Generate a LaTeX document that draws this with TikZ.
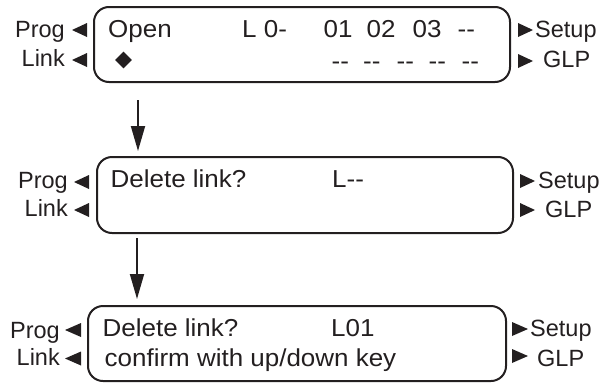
\documentclass[tikz,border=0pt]{standalone}
\usepackage{fontspec}
\setmainfont{Liberation Sans}
\newfontfamily\lcdfont[FakeStretch=1.06]{Liberation Sans}
\usetikzlibrary{arrows.meta,shapes.geometric}
\definecolor{ink}{HTML}{231F20}
\tikzset{
  lcdbox/.style={draw=ink, line width=2pt, rounded corners=15pt, inner sep=0pt},
  lcdtxt/.style={inner sep=0pt, anchor=base west, text=ink, font=\lcdfont\fontsize{24.5}{28}\selectfont},
  labl/.style={inner sep=0pt, anchor=base east, text=ink, font=\fontsize{23.5}{28}\selectfont},
  labr/.style={inner sep=0pt, anchor=base west, text=ink, font=\fontsize{23.5}{28}\selectfont},
  flowarrow/.style={draw=ink, line width=1.8pt, -{Triangle[length=25pt,width=14pt]}},
}
\begin{document}
\begin{tikzpicture}[x=1pt,y=-1pt]
\useasboundingbox (0,0) rectangle (604,383);
% boxes
\node[lcdbox, minimum width=416pt, minimum height=75pt] (box1) at (302,44.5) {};
\node[lcdbox, minimum width=416pt, minimum height=76pt] (box2) at (305,195) {};
\node[lcdbox, minimum width=418pt, minimum height=75pt] (box3) at (297,343.5) {};
% box 1 text
\node[lcdtxt] (b1open) at (108,37.3) {Open};
\node[lcdtxt] (b1l) at (242,37.3) {L 0-};
\node[lcdtxt] (b1a) at (323.5,37.3) {01};
\node[lcdtxt] (b1b) at (366.5,37.3) {02};
\node[lcdtxt] (b1c) at (412.5,37.3) {03};
\node[lcdtxt] (b1d) at (457.5,37.3) {--};
\node[diamond, fill=ink, inner sep=0pt, minimum width=17pt, minimum height=17pt] (b1dia) at (123.5,60) {};
\node[lcdtxt] (b1e) at (331.5,69) {--};
\node[lcdtxt] (b1f) at (363,69) {--};
\node[lcdtxt] (b1g) at (396.5,69) {--};
\node[lcdtxt] (b1h) at (428.5,69) {--};
\node[lcdtxt] (b1i) at (461.5,69) {--};
% box 2 text
\node[lcdtxt] (b2del) at (110.5,187.3) {Delete link?};
\node[lcdtxt] (b2l) at (332,187.3) {L--};
% box 3 text
\node[lcdtxt] (b3del) at (102.5,336) {Delete link?};
\node[lcdtxt] (b3l) at (331,336) {L01};
\node[lcdtxt] (b3conf) at (104.5,366) {confirm with up/down key};
% left labels
\node[labl] (p1) at (65,37) {Prog};
\node[labl] (k1) at (65,66) {Link};
\node[labl] (p2) at (68,188) {Prog};
\node[labl] (k2) at (68,216) {Link};
\node[labl] (p3) at (60,338) {Prog};
\node[labl] (k3) at (60,365) {Link};
\fill[ink] (72,30) -- (87,23) -- (87,37) -- cycle;
\fill[ink] (72,60) -- (87,53) -- (87,67) -- cycle;
\fill[ink] (74,182) -- (89,175) -- (89,189) -- cycle;
\fill[ink] (74,210) -- (89,203) -- (89,217) -- cycle;
\fill[ink] (65,330) -- (81,323) -- (81,337) -- cycle;
\fill[ink] (65,358.5) -- (81,351.5) -- (81,365.5) -- cycle;
% right labels
\node[labr] (s1) at (535,37) {Setup};
\node[labr] (g1) at (543,67) {GLP};
\node[labr] (s2) at (538,188.7) {Setup};
\node[labr] (g2) at (545,217) {GLP};
\node[labr] (s3) at (530,336) {Setup};
\node[labr] (g3) at (537,366) {GLP};
\fill[ink] (533,30) -- (518,23) -- (518,37) -- cycle;
\fill[ink] (533,61) -- (518,54) -- (518,68) -- cycle;
\fill[ink] (535,181) -- (520,174) -- (520,188) -- cycle;
\fill[ink] (535,210) -- (520,203) -- (520,217) -- cycle;
\fill[ink] (528,329) -- (512,322) -- (512,336) -- cycle;
\fill[ink] (528,356) -- (512,349) -- (512,363) -- cycle;
% arrows
\coordinate (a1s) at (138,100);
\coordinate (a1e) at (138,151);
\coordinate (a2s) at (137,238);
\coordinate (a2e) at (137,299);
\draw[flowarrow] (a1s) -- (a1e);
\draw[flowarrow] (a2s) -- (a2e);
\end{tikzpicture}
\end{document}
